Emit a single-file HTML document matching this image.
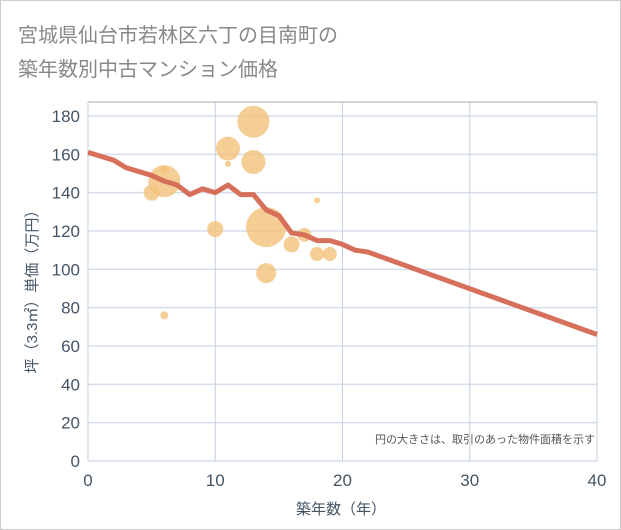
<!DOCTYPE html>
<html><head><meta charset="utf-8"><style>
body{margin:0;background:#fff;font-family:"Liberation Sans","Noto Sans CJK JP",sans-serif}
#wrap{position:relative;width:621px;height:530px;background:#efefef;overflow:hidden}
#card{position:absolute;left:0;top:0;width:619px;height:528px;border:1px solid #ccc;background:#fff}
</style></head><body>
<div id="wrap"><div id="card">
<svg id="chart" width="621" height="530" style="position:absolute;left:-1px;top:-1px">
<text x="18" y="42" font-size="20" fill="#888" font-family="Liberation Sans,Noto Sans CJK JP,sans-serif">宮城県仙台市若林区六丁の目南町の</text>
<text x="18" y="76" font-size="20" fill="#888" font-family="Liberation Sans,Noto Sans CJK JP,sans-serif">築年数別中古マンション価格</text>
<g id="grid"></g><g id="bubbles"></g><g id="line"></g><g id="axes"></g>
<text x="595" y="443" font-size="11" fill="#555" text-anchor="end" font-family="Liberation Sans,Noto Sans CJK JP,sans-serif">円の大きさは、取引のあった物件面積を示す</text>
<text x="341" y="514" font-size="15" fill="#445566" text-anchor="middle" font-family="Liberation Sans,Noto Sans CJK JP,sans-serif">築年数（年）</text>
<text transform="translate(37,288) rotate(-90)" font-size="15" fill="#445566" text-anchor="middle" font-family="Liberation Sans,Noto Sans CJK JP,sans-serif">坪（3.3㎡）単価（万円）</text>
</svg></div></div>
<script>
const xTicks=[0,10,20,30,40];
const yTicks=[0,20,40,60,80,100,120,140,160,180];
const bubbleAge=[6,5,6,6,10,11,11,13,13,14,14,16,17,18,18,19];
const bubblePrice=[146,140,152,76,121,163,155,177,156,122,98,113,118,136,108,108];
const bubbleSize=[16,8,4,4,8,12,3,16,12,20,10,8,7,3,7,7];
const lineAge=[0,1,2,3,4,5,6,7,8,9,10,11,12,13,14,15,16,17,18,19,20,21,22,40];
const linePrice=[161,159,157,153,151,149,146,144,139,142,140,144,139,139,131,128,119,118,115,115,113,110,109,66];
const NS='http://www.w3.org/2000/svg';
const X=v=>88+v*12.725, Y=v=>461-v*1.9167;
function mk(t,a,p){const e=document.createElementNS(NS,t);for(const k in a)e.setAttribute(k,a[k]);document.getElementById(p).appendChild(e);return e;}
yTicks.forEach(v=>{const l=mk('line',{x1:88,x2:597,y1:Y(v),y2:Y(v),stroke:'#d5dde8','stroke-width':1.5},'grid');


const t=mk('text',{x:80,y:Y(v)+6,'font-size':17,fill:'#445566','text-anchor':'end'},'axes');t.textContent=v;

});
xTicks.forEach(v=>{const l=mk('line',{x1:X(v),x2:X(v),y1:102,y2:461,stroke:'#c5d0de','stroke-width':1},'grid');


const t=mk('text',{x:X(v),y:486,'font-size':17,fill:'#445566','text-anchor':'middle'},'axes');t.textContent=v;

});
const plotTopBorder=mk('line',{x1:88,x2:597,y1:102,y2:102,stroke:'#aaa','stroke-width':1},'axes');


bubbleAge.forEach((a,i)=>{const c=mk('circle',{cx:X(a),cy:Y(bubblePrice[i]),r:bubbleSize[i],fill:'#f2c27a','fill-opacity':0.8},'bubbles');

});
const trendLine=mk('polyline',{points:lineAge.map((a,i)=>X(a)+','+Y(linePrice[i])).join(' '),fill:'none',stroke:'#d7705a','stroke-width':5,'stroke-linejoin':'round'},'line');


</script></body></html>
